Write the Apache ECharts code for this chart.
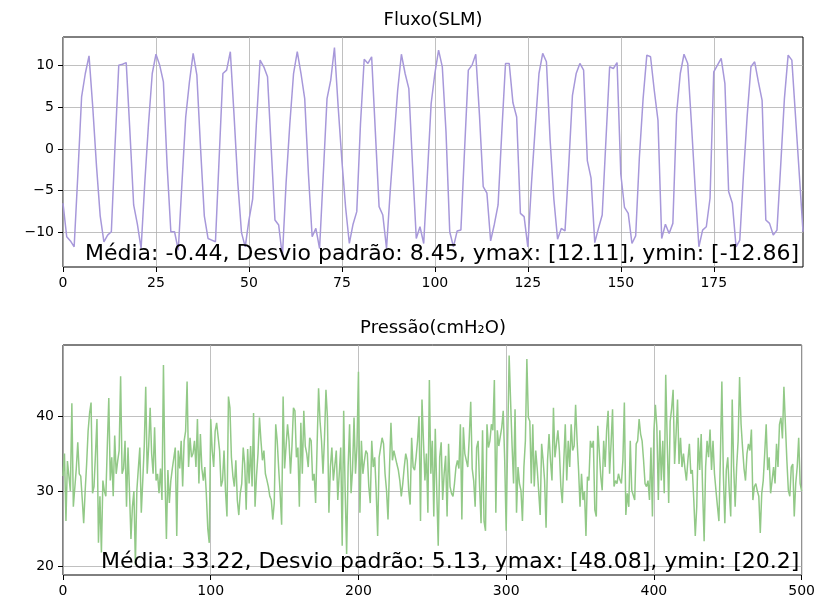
<!DOCTYPE html>
<html>
<head>
<meta charset="utf-8">
<script src="https://cdn.jsdelivr.net/npm/echarts@6/dist/echarts.min.js"></script>
<style>
  html, body { margin: 0; padding: 0; background: #fff; }
  #main { width: 818px; height: 603px; }
</style>
</head>
<body>
<div id="main"></div>
<script>
// flow signal, one value per sample (0..199)
var fluxo = [
  -6.5, -10.5, -11, -11.7, -3, 6.2, 9, 11.1, 5, -2,
  -8, -11.1, -10.3, -9.9, 0.5, 10, 10.1, 10.3, 2, -6.7,
  -9, -11.9, -4, 3, 9, 11.3, 10, 8, -2, -9.9,
  -9.9, -12.1, -4, 3.8, 8, 11.4, 8.8, 0, -8, -10.7,
  -10.9, -11.1, -1, 9, 9.4, 11.6, 4, -4, -10, -11.7,
  -8.5, -6, 3, 10.6, 9.8, 8.6, 0, -8.5, -9.1, -12.86,
  -4, 3, 9, 11.6, 9, 6, -3, -10.5, -9.5, -11.9,
  -3, 6, 8.2, 12.11, 5, -1.4, -7, -11.3, -9, -7.5,
  3, 10.7, 10.2, 11, 2, -6.9, -7.9, -11.9, -5, 1,
  7, 11.3, 9, 7.2, -2, -10.7, -9.3, -11.3, -3, 5.4,
  9, 11.8, 9.8, 2, -9.9, -11.7, -9.8, -9.7, 0, 9.4,
  10, 11.3, 4, -4.5, -5.3, -11, -9, -6.7, 2, 10.2,
  10.2, 5.5, 3.8, -7.7, -8.1, -11.7, -4, 2.6, 9, 11.4,
  10.4, 1, -6, -10.8, -9.5, -9.8, -2, 6.4, 9, 10.2,
  9.4, -1.4, -3.5, -11.2, -9.5, -7.9, 1, 9.8, 9.6, 10.3,
  -3, -7, -7.7, -11.3, -10.4, -1, 6, 11.2, 11, 7,
  3.4, -10.7, -9, -10.1, -8.9, 4.2, 9, 11.3, 10.2, 3,
  -4.7, -11.7, -9.7, -9.3, -5.9, 9.2, 10, 10.8, 7.8, -5.1,
  -6.5, -11.7, -10.9, -3, 4, 9.8, 10.4, 8, 5.8, -8.5,
  -8.9, -10.3, -9.7, -2, 6, 11.2, 10.6, 3.8, -3, -9.9
];

// pressure signal (0..500)
var pressao = [
  32, 35, 26, 34, 32, 30, 41.7, 27.9, 28, 33,
  36.5, 32.3, 32, 29, 25.7, 30, 33.6, 38, 40.4, 41.8,
  29.7, 30.6, 35, 39.6, 23.1, 29.3, 21.8, 31.4, 30, 29.3,
  36, 42.4, 31.4, 34.5, 29.3, 37.4, 32.3, 34, 35.4, 45.3,
  32.3, 33, 36.7, 27.9, 35.8, 30, 23.6, 27.9, 30, 20.2,
  30.1, 33, 35.8, 27.1, 31.4, 36, 43.9, 32.3, 36, 41.1,
  35, 32.3, 38.5, 31.4, 32.3, 29.7, 33, 28.8, 46.8, 32.3,
  23.6, 32.8, 28.4, 31.4, 33, 32.8, 35.8, 24, 35.4, 33,
  36.7, 30.6, 36.7, 38, 44.6, 33.2, 37.1, 34.5, 35, 36.7,
  33.2, 39.6, 31, 37.6, 33, 31.4, 33.2, 29.7, 25, 23.1,
  39.6, 35.4, 33.2, 38, 39.1, 39.3, 35.4, 30.6, 31.4, 35.4,
  30, 26.6, 42.6, 41.1, 34.5, 32, 30.6, 34.1, 28.8, 26.8,
  29.7, 31, 35.8, 33.6, 27.5, 35.6, 31, 36, 30.6, 40.4,
  27.9, 32, 35, 39.8, 36.7, 34.1, 35.4, 32.3, 31.5, 30.6,
  29.3, 28.8, 26.2, 28.4, 38.9, 36.7, 33, 29.7, 25.5, 42.6,
  33, 36, 38.9, 36.7, 32.3, 36, 41.1, 40.7, 34.5, 35.8,
  27.9, 39.1, 32.3, 40.7, 36, 35, 33.2, 37.1, 36.7, 31.4,
  32.3, 28.4, 36, 43.7, 39.3, 36.7, 32.3, 37, 43.5, 39.8,
  27.1, 33.2, 35.8, 31.4, 31.4, 35.4, 28.8, 32.3, 35.8, 22.7,
  40.7, 30, 21.6, 33.2, 38.9, 29.7, 32.8, 39.8, 32.3, 36,
  45.9, 27.1, 36.7, 32.3, 34, 35.4, 35, 30.6, 28.4, 36.7,
  33.2, 34.5, 30, 24, 34.5, 35.8, 37.1, 36.3, 32.3, 30.1,
  26.2, 33, 39.1, 34.1, 35.4, 34.5, 33.6, 32.8, 31.4, 29.3,
  31, 33.2, 35, 34.1, 30.1, 28.2, 37.1, 33.2, 32.8, 34.5,
  36.7, 40, 26, 42.2, 36.7, 31.4, 35, 27.1, 44.8, 32.3,
  36.7, 26.6, 38.3, 30, 22.7, 34.5, 36.5, 28.8, 32.3, 34.7,
  26.6, 36.3, 30.6, 29.7, 29.3, 31, 33.2, 34.1, 33, 38.9,
  26.2, 38.5, 35, 34.1, 33.2, 37.1, 41.9, 33, 31.4, 27.9,
  35.8, 36.7, 30.6, 25.7, 38.1, 26, 24.7, 38.9, 35.8, 36.7,
  38.9, 38.1, 44.8, 27.1, 38.1, 36, 35.8, 38.5, 40.7, 34.1,
  24.7, 36.7, 48.08, 41.9, 36, 31, 40.9, 27.1, 33.2, 31,
  30.1, 26, 33.2, 36.7, 47.6, 39.8, 39.3, 31, 38.9, 30.6,
  35.4, 33, 32.8, 26.8, 36.3, 34.1, 31.4, 25.1, 34.1, 37.6,
  34, 31.4, 41.1, 34.5, 36.3, 38.1, 35.4, 30.6, 28.4, 34,
  38.9, 31.4, 36.7, 33.2, 38.9, 35.4, 36, 41.5, 36.7, 32.8,
  27.9, 32.3, 28.8, 30, 24, 31.9, 31.4, 36.7, 35.8, 36.7,
  27.5, 26.6, 38.7, 38.5, 32, 30.1, 36.7, 33.2, 38.1, 40.7,
  32.3, 36.3, 40.9, 30.6, 31.4, 31, 32.3, 31.5, 31, 34.1,
  41.8, 26.8, 29.7, 27.9, 36.7, 30.1, 30, 28.8, 36.3, 36.7,
  39.6, 37.6, 36.7, 34.1, 31, 30.6, 31.4, 28.8, 35.8, 26.6,
  38, 41.5, 38.5, 28.8, 38.1, 31.4, 36.7, 29.7, 45.5, 36.7,
  28.4, 39.3, 41, 43.5, 33.6, 37.6, 42.2, 33.6, 37.1, 33.2,
  35, 33, 31.4, 34.1, 36.3, 32.3, 32.8, 28.8, 24, 27.9,
  37.1, 32.8, 37.6, 30, 23.3, 33.2, 36.7, 34.5, 38.2, 32.8,
  36.7, 32.3, 30.1, 28, 26, 34.5, 44.6, 32.3, 25.7, 32.8,
  34.5, 30, 26.6, 42.2, 33.2, 27.9, 33.2, 36.7, 45.2, 38.9,
  35.8, 33, 31.4, 35, 36.3, 35.4, 38.2, 28.8, 30.6, 31,
  30, 29.3, 24.4, 29.7, 31.4, 35, 38.9, 32.8, 34.5, 29.7,
  31.4, 33.2, 31, 36.3, 33.2, 38.9, 39.8, 37, 43.9, 38.9,
  34.1, 30.1, 29.3, 33.2, 33.6, 26.6, 31, 33.2, 37.1, 31,
  30
];

// tick labels
var fluxoXTicks = [0, 25, 50, 75, 100, 125, 150, 175];
var fluxoYTicks = [-10, -5, 0, 5, 10];
var pressaoXTicks = [0, 100, 200, 300, 400, 500];
var pressaoYTicks = [20, 30, 40];

var titles = ["Fluxo(SLM)", "Pressão(cmH₂O)"];
var notes = [
  "Média: -0.44, Desvio padrão: 8.45, ymax: [12.11], ymin: [-12.86]",
  "Média: 33.22, Desvio padrão: 5.13, ymax: [48.08], ymin: [20.2]",
];

var FONT = "DejaVu Sans";

function toPairs(arr) {
  return arr.map(function (v, i) { return [i, v]; });
}

// matplotlib uses the unicode minus on ticks
function minusFmt(v) {
  return v < 0 ? "\u2212" + Math.abs(v) : String(v);
}

function makeAxis(gridIndex, min, max, ticks) {
  return {
    type: "value",
    gridIndex: gridIndex,
    min: min,
    max: max,
    axisLine: { show: false, onZero: false },
    axisTick: {
      show: true, length: 5, customValues: ticks,
      lineStyle: { color: "#000", width: 1 },
    },
    axisLabel: {
      customValues: ticks, formatter: minusFmt,
      color: "#000", fontFamily: FONT, fontSize: 14, margin: 9,
    },
    splitLine: { show: true, lineStyle: { color: "#b0b0b0", width: 0.8 } },
  };
}

var chart = echarts.init(document.getElementById("main"), null, { renderer: "canvas" });

var gridBase = { left: 63, right: 15, height: 230, show: true, borderColor: "#000", borderWidth: 1 };

var option = {
  animation: false,
  backgroundColor: "#fff",
  grid: [
    Object.assign({ top: 37 }, gridBase),
    Object.assign({ top: 345 }, gridBase),
  ],
  xAxis: [
    makeAxis(0, 0, 199, fluxoXTicks),
    makeAxis(1, 0, 500, pressaoXTicks),
  ],
  yAxis: [
    makeAxis(0, -14.11, 13.36, fluxoYTicks),
    makeAxis(1, 18.81, 49.47, pressaoYTicks),
  ],
  series: [
    {
      type: "line", xAxisIndex: 0, yAxisIndex: 0,
      data: toPairs(fluxo), showSymbol: false, silent: true,
      lineStyle: { color: "#a798da", width: 1.5 },
    },
    {
      type: "line", xAxisIndex: 1, yAxisIndex: 1,
      data: toPairs(pressao), showSymbol: false, silent: true,
      lineStyle: { color: "#92c987", width: 1.5 },
    },
  ],
  graphic: [
    { type: "text", x: 433, y: 11, style: { text: titles[0], font: "18px '" + FONT + "'", fill: "#000", align: "center" } },
    { type: "text", x: 433, y: 319, style: { text: titles[1], font: "18px '" + FONT + "'", fill: "#000", align: "center" } },
    { type: "text", x: 85, y: 243, z: 10, style: { text: notes[0], font: "22px '" + FONT + "'", fill: "#000" } },
    { type: "text", x: 101, y: 551, z: 10, style: { text: notes[1], font: "22px '" + FONT + "'", fill: "#000" } },
  ],
};

chart.setOption(option);
</script>
</body>
</html>
